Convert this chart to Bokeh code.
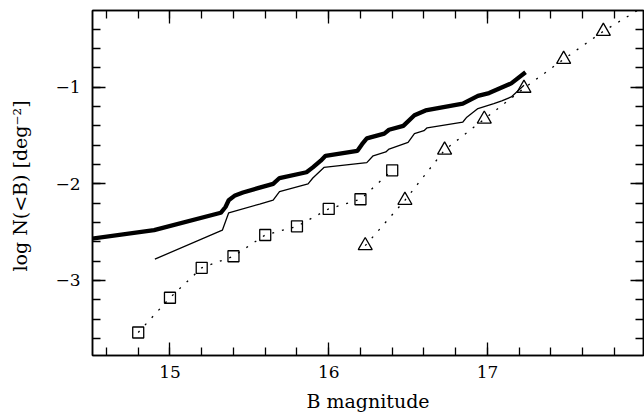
from bokeh.plotting import figure
from bokeh.models import LinearAxis, Range1d, SingleIntervalTicker, CustomJSTickFormatter
from bokeh.embed import file_html
from bokeh.resources import INLINE

# --- data ---
thick_x = [14.5, 14.9, 15.32, 15.35, 15.37, 15.41, 15.46, 15.565, 15.65, 15.69,
           15.86, 15.90, 15.95, 15.98, 16.18, 16.21, 16.24, 16.35, 16.38, 16.47,
           16.54, 16.61, 16.845, 16.94, 17.01, 17.15, 17.24]
thick_y = [-2.57, -2.48, -2.30, -2.24, -2.17, -2.12, -2.09, -2.04, -2.00, -1.94,
           -1.88, -1.83, -1.76, -1.71, -1.66, -1.59, -1.53, -1.48, -1.44, -1.40,
           -1.29, -1.24, -1.17, -1.09, -1.06, -0.96, -0.845]

thin_x = [14.905, 15.33, 15.37, 15.565, 15.65, 15.69, 15.87, 15.90, 15.97, 16.24,
          16.28, 16.36, 16.38, 16.50, 16.54, 16.60, 16.62, 16.845, 16.87, 16.94,
          17.04, 17.09, 17.15, 17.23]
thin_y = [-2.78, -2.48, -2.30, -2.21, -2.17, -2.08, -2.00, -1.94, -1.83, -1.78,
          -1.71, -1.67, -1.64, -1.57, -1.48, -1.45, -1.42, -1.36, -1.31, -1.22,
          -1.17, -1.14, -1.10, -0.98]

sq_x = [14.8, 15.0, 15.2, 15.4, 15.6, 15.8, 16.0, 16.2, 16.4]
sq_y = [-3.54, -3.18, -2.87, -2.75, -2.53, -2.44, -2.26, -2.16, -1.86]

tri_x = [16.23, 16.48, 16.73, 16.98, 17.23, 17.48, 17.73]
tri_y = [-2.64, -2.17, -1.65, -1.33, -1.01, -0.71, -0.42]
tri_line_x = tri_x + [18.0]
tri_line_y = tri_y + [-0.15]

y_tick_values = [-3, -2, -1]
y_tick_labels = ["\u22123", "\u22122", "\u22121"]

x_label = "B magnitude"
y_label = "log N(<B)  [deg\u207b\u00b2]"

FONT = "DejaVu Serif"

p = figure(width=644, height=415, output_backend="svg", toolbar_location=None,
           x_range=Range1d(14.512, 17.983), y_range=Range1d(-3.778, -0.205),
           min_border_left=92, min_border_right=1, min_border_top=10,
           min_border_bottom=60, x_axis_label=x_label, y_axis_label=y_label)

p.grid.visible = False
p.background_fill_color = "white"
p.border_fill_color = "white"
p.outline_line_color = "black"
p.outline_line_width = 1.5

def style_axis(ax, show_labels):
    ax.ticker = SingleIntervalTicker(interval=1, num_minor_ticks=5)
    ax.axis_line_color = "black"
    ax.axis_line_width = 1.5
    ax.major_tick_in = 13
    ax.major_tick_out = 0
    ax.minor_tick_in = 8
    ax.minor_tick_out = 0
    ax.major_tick_line_width = 1.3
    ax.minor_tick_line_width = 1.3
    ax.major_tick_line_color = "black"
    ax.minor_tick_line_color = "black"
    if show_labels:
        ax.major_label_text_font = FONT
        ax.major_label_text_font_size = "17px"
        ax.major_label_text_color = "black"
        ax.axis_label_text_font = FONT
        ax.axis_label_text_font_size = "19px"
        ax.axis_label_text_font_style = "normal"
        ax.axis_label_text_color = "black"
    else:
        ax.formatter = CustomJSTickFormatter(code="return '';")
        ax.major_label_text_font_size = "0px"
        ax.major_label_standoff = 0
        ax.axis_label = None

style_axis(p.xaxis[0], True)
style_axis(p.yaxis[0], True)
p.xaxis[0].major_label_standoff = 10
p.xaxis[0].axis_label_standoff = 9
p.yaxis[0].major_label_standoff = 12
p.yaxis[0].axis_label_standoff = 21
p.yaxis[0].major_label_overrides = {v: l for v, l in zip(y_tick_values, y_tick_labels)}
p.yaxis[0].major_label_orientation = "horizontal"

top_ax = LinearAxis()
right_ax = LinearAxis()
style_axis(top_ax, False)
style_axis(right_ax, False)
p.add_layout(top_ax, "above")
p.add_layout(right_ax, "right")

# curves
p.line(thick_x, thick_y, line_color="black", line_width=4.3)
p.line(thin_x, thin_y, line_color="black", line_width=1.3)

# dotted connectors
p.line(sq_x, sq_y, line_color="black", line_width=1.3, line_dash="2 8")
p.line(tri_line_x, tri_line_y, line_color="black", line_width=1.3, line_dash="2 8")

# markers
p.scatter(sq_x, sq_y, marker="square", size=11, fill_color=None,
          line_color="black", line_width=1.3)
p.scatter(tri_x, tri_y, marker="triangle", size=14, fill_color=None,
          line_color="black", line_width=1.3)

open("out.html", "w").write(file_html(p, INLINE))
